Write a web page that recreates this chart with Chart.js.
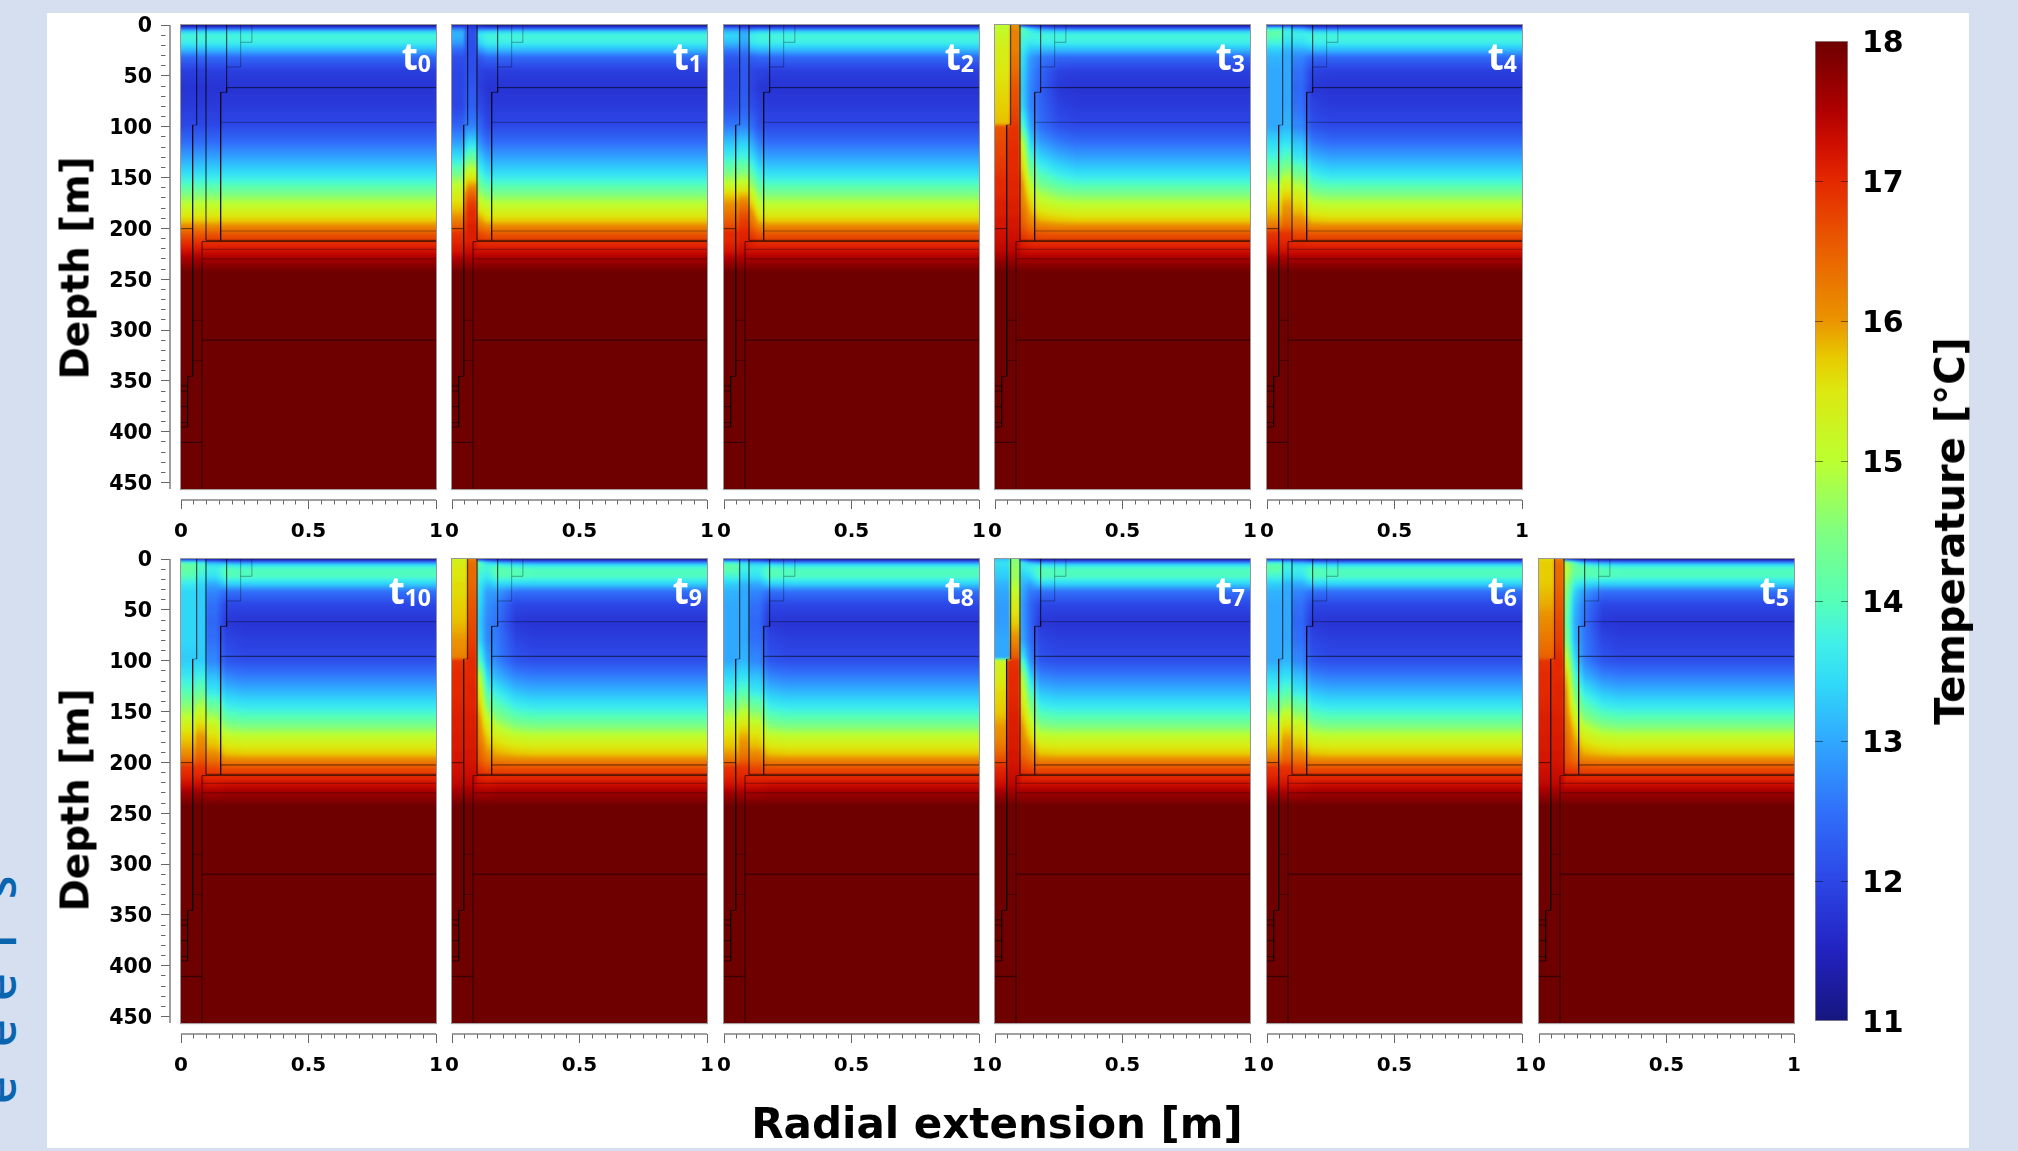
<!DOCTYPE html>
<html>
<head>
<meta charset="utf-8">
<title>Temperature sections</title>
<script src="https://cdn.jsdelivr.net/npm/chart.js@4/dist/chart.umd.min.js"></script>
<style>
    html, body { margin: 0; padding: 0; background: #d6dfef; }
    #page { position: relative; width: 2018px; height: 1151px; overflow: hidden; }
    #sheet { position: absolute; left: 47px; top: 13px; width: 1922px; height: 1135px; background: #fff; }
    canvas { position: absolute; }
    .axis-title { position: absolute; font: bold 38px "DejaVu Sans"; color: #000; white-space: nowrap; transform: translate(-50%, -50%); }
    .axis-title.turned { transform: translate(-50%, -50%) rotate(-90deg); }
    .time-label { position: absolute; font: 700 37px "Open Sans"; line-height: 37px; color: #fff; white-space: nowrap; transform: translateX(-100%); z-index: 5; }
    .time-label sub { font-size: 23px; vertical-align: baseline; position: relative; top: 2px; }
    .edge-letter { position: absolute; font: 600 48px "Open Sans"; line-height: 48px; color: #0a64ae; transform-origin: left top; transform: rotate(-90deg); }
</style>
</head>
<body>
<div id="page"><div id="sheet"></div></div>
<script>
// depth [m] of the rows every temperature profile below is read at
const depthRows = [0, 3, 6, 10, 17, 25, 32, 45, 62, 80, 97, 100, 115, 130, 145, 155, 165, 175, 185, 192, 198, 205, 212, 222, 232, 243, 456];
// radial position [m] of the nine profile columns, first four are sharp zones
const radialNodes = [0.023, 0.053, 0.071, 0.09, 0.109, 0.1375, 0.1775, 0.25, 0.32];
const radialEdges = [0.046, 0.06, 0.082, 0.098];

const depthTicks = [0, 10, 20, 30, 40, 50, 60, 70, 80, 90, 100, 110, 120, 130, 140, 150, 160, 170, 180, 190, 200, 210, 220, 230, 240, 250, 260, 270, 280, 290, 300, 310, 320, 330, 340, 350, 360, 370, 380, 390, 400, 410, 420, 430, 440, 450];
const depthLabels = [0, 50, 100, 150, 200, 250, 300, 350, 400, 450];
const radialTicks = [0, 0.05, 0.1, 0.15, 0.2, 0.25, 0.3, 0.35, 0.4, 0.45, 0.5, 0.55, 0.6, 0.65, 0.7, 0.75, 0.8, 0.85, 0.9, 0.95, 1];
const radialLabels = [0, 0.5, 1];
const tempTicks = [11, 12, 13, 14, 15, 16, 17, 18];

const colorValues = [11, 11.5, 12, 12.5, 13, 13.4, 13.7, 14, 14.5, 15, 15.5, 15.75, 16, 16.5, 17, 17.25, 17.5, 18];
const colorList = ["#16167f", "#2222c0", "#2c46e6", "#3070fa", "#30a8ff", "#30d8f8", "#40f0e8", "#55ffb8", "#80ff80", "#bcff30", "#dce810", "#e8c800", "#ea9400", "#ea6000", "#e42800", "#d01000", "#b00000", "#6e0000"];

// temperature profiles [deg C], one value per depthRows entry
const far = [11, 12.2, 13.3, 13.8, 13.7, 13.1, 12.4, 11.9, 11.75, 11.85, 12, 12.05, 12.45, 12.95, 13.45, 13.85, 14.4, 14.95, 15.4, 15.7, 16.1, 16.55, 16.85, 17.25, 17.65, 18, 18];
const farB = [11, 12.6, 13.5, 13.95, 13.95, 13.3, 12.5, 12, 11.75, 11.9, 12.05, 12.1, 12.6, 13.1, 13.6, 14, 14.5, 15.1, 15.5, 15.75, 16.15, 16.6, 16.9, 17.3, 17.7, 18, 18];
const t1a = [11.3, 12.5, 13, 13.1, 12.9, 12.4, 12.1, 12, 12, 12, 12.3, 12.4, 12.9, 13.5, 14.3, 14.9, 15.3, 15.6, 15.9, 16.2, 16.5, 16.9, 17, 17.2, 17.6, 18, 18];
const t1b = [11.5, 12.2, 12.5, 12.5, 12.4, 12.2, 12.1, 12.1, 12.1, 12.2, 12.5, 12.6, 13.2, 14, 15, 15.5, 16, 16.4, 16.7, 16.8, 16.9, 17, 17.05, 17.3, 17.6, 18, 18];
const t1c = [11.6, 11.9, 12.1, 12.1, 12.1, 12.1, 12.1, 12.1, 12.2, 12.3, 12.6, 12.7, 13.4, 14.2, 15.2, 15.8, 16.4, 16.8, 17, 17, 17.1, 17.1, 17.1, 17.3, 17.6, 18, 18];
const t1e = [11.2, 12.3, 13.2, 13.6, 13.4, 12.8, 12.2, 11.95, 11.9, 12.05, 12.35, 12.4, 12.8, 13.3, 13.8, 14.2, 14.7, 15.2, 15.7, 16, 16.3, 16.7, 16.9, 17.25, 17.65, 18, 18];
const t2a = [11.2, 12.5, 13.1, 13.4, 13.2, 12.6, 12.2, 12, 12, 12.1, 12.5, 12.6, 13.2, 13.7, 14.4, 15, 15.6, 16, 16.3, 16.5, 16.7, 17, 17, 17.2, 17.6, 18, 18];
const t2c = [11.2, 12.2, 12.9, 13.1, 13, 12.6, 12.3, 12.2, 12.2, 12.3, 12.6, 12.7, 13.3, 13.8, 14.5, 15.1, 15.7, 16.2, 16.6, 16.8, 16.9, 17.05, 17.1, 17.3, 17.6, 18, 18];
const t2e = [11.1, 12.2, 13.2, 13.7, 13.6, 13, 12.3, 12, 11.95, 12.1, 12.45, 12.5, 13, 13.5, 14.1, 14.6, 15.2, 15.7, 16.1, 16.3, 16.5, 16.8, 17, 17.25, 17.65, 18, 18];
const t3a = [15, 15.1, 15.1, 15.2, 15.3, 15.4, 15.4, 15.5, 15.6, 15.7, 15.8, 16.6, 16.7, 16.8, 16.9, 17, 17, 17.1, 17.1, 17.2, 17.2, 17.25, 17.3, 17.4, 17.7, 18, 18];
const t3b = [15, 15.1, 15.1, 15.2, 15.3, 15.4, 15.4, 15.5, 15.6, 15.7, 15.8, 16.9, 16.95, 17, 17, 17.05, 17.05, 17.1, 17.1, 17.2, 17.2, 17.25, 17.3, 17.4, 17.7, 18, 18];
const t3c = [16, 16.1, 16.2, 16.2, 16.2, 16.2, 16.3, 16.4, 16.6, 16.7, 16.85, 16.9, 16.95, 17, 17, 17.05, 17.05, 17.1, 17.1, 17.2, 17.2, 17.25, 17.3, 17.4, 17.7, 18, 18];
const t3e = [11.5, 14, 14, 13.9, 13.8, 13.6, 13.5, 13.4, 13.3, 13.4, 13.9, 14, 15, 15.5, 15.8, 16, 16.1, 16.2, 16.4, 16.5, 16.6, 16.8, 17, 17.3, 17.65, 18, 18];
const t3f = [11.2, 13.3, 13.7, 13.8, 13.6, 13.2, 12.9, 12.8, 12.7, 12.7, 12.95, 13, 13.4, 13.9, 14.5, 15, 15.4, 15.7, 15.9, 16.1, 16.3, 16.6, 16.9, 17.25, 17.65, 18, 18];
const t3g = [11.1, 12.6, 13.4, 13.8, 13.7, 13.1, 12.6, 12.4, 12.3, 12.4, 12.45, 12.5, 12.9, 13.4, 13.9, 14.3, 14.8, 15.2, 15.6, 15.85, 16.2, 16.6, 16.85, 17.25, 17.65, 18, 18];
const t3h = [11, 12.3, 13.3, 13.8, 13.7, 13.1, 12.4, 11.95, 11.8, 11.95, 12.1, 12.15, 12.6, 13.1, 13.6, 14, 14.5, 15, 15.45, 15.75, 16.1, 16.55, 16.85, 17.25, 17.65, 18, 18];
const t4a = [11.5, 13.6, 14.1, 14.1, 13.8, 13.3, 13.1, 13, 13, 13, 13, 13, 13.4, 13.8, 14.4, 14.9, 15.3, 15.6, 15.8, 16, 16.3, 16.9, 17, 17.25, 17.65, 18, 18];
const t4c = [11.4, 13.3, 13.7, 13.7, 13.5, 13.1, 13, 13, 13, 13, 13.1, 13.1, 13.5, 14, 14.7, 15.2, 15.6, 15.9, 16.1, 16.3, 16.5, 16.9, 17, 17.25, 17.65, 18, 18];
const t4e = [11.2, 12.9, 13.5, 13.7, 13.5, 13, 12.7, 12.5, 12.4, 12.5, 12.7, 12.7, 13.2, 13.6, 14.3, 14.8, 15.3, 15.6, 15.85, 16.1, 16.35, 16.7, 16.9, 17.25, 17.65, 18, 18];
const t5a = [15.6, 15.7, 15.7, 15.7, 15.7, 15.75, 15.8, 15.9, 16.1, 16.3, 16.5, 16.9, 17, 17, 17.05, 17.1, 17.1, 17.15, 17.15, 17.2, 17.2, 17.25, 17.3, 17.4, 17.7, 18, 18];
const t5c = [16.2, 16.35, 16.4, 16.4, 16.4, 16.45, 16.5, 16.6, 16.7, 16.8, 16.95, 17, 17, 17.05, 17.05, 17.1, 17.1, 17.15, 17.15, 17.2, 17.2, 17.25, 17.3, 17.4, 17.7, 18, 18];
const t5e = [11.6, 14.8, 14.9, 15, 14.9, 14.7, 14.6, 14.4, 14.3, 14.5, 15.1, 15.3, 15.8, 16, 16.1, 16.2, 16.3, 16.4, 16.5, 16.55, 16.6, 16.8, 17, 17.3, 17.7, 18, 18];
const t5f = [11.3, 13.9, 14.2, 14.3, 14.1, 13.7, 13.4, 13.2, 13.1, 13.2, 13.5, 13.6, 14, 14.5, 15, 15.4, 15.7, 15.9, 16.1, 16.3, 16.4, 16.7, 16.95, 17.3, 17.7, 18, 18];
const t5g = [11.1, 13, 13.8, 14.1, 14, 13.4, 12.9, 12.6, 12.5, 12.6, 12.65, 12.7, 13.1, 13.6, 14.1, 14.5, 15, 15.4, 15.7, 15.9, 16.2, 16.65, 16.9, 17.3, 17.7, 18, 18];
const t5h = [11, 12.7, 13.6, 14, 14, 13.3, 12.5, 12, 11.8, 12, 12.15, 12.2, 12.7, 13.2, 13.7, 14.1, 14.6, 15.15, 15.55, 15.8, 16.15, 16.6, 16.9, 17.3, 17.7, 18, 18];
const t7a = [13.2, 13.5, 13.5, 13.4, 13.3, 13.1, 13, 12.9, 12.9, 13, 13, 15.2, 15.4, 15.6, 15.7, 15.8, 16, 16.1, 16.3, 16.5, 16.7, 17, 17.1, 17.3, 17.7, 18, 18];
const t7b = [13.2, 13.5, 13.5, 13.4, 13.3, 13.1, 13, 12.9, 12.9, 13, 13, 16.9, 17, 17, 17.05, 17.1, 17.1, 17.15, 17.15, 17.2, 17.2, 17.25, 17.3, 17.4, 17.7, 18, 18];
const t7c = [14.5, 14.6, 14.6, 14.7, 14.7, 14.9, 15.1, 15.4, 15.7, 16.1, 16.6, 16.9, 17, 17, 17.05, 17.1, 17.1, 17.15, 17.15, 17.2, 17.2, 17.25, 17.3, 17.4, 17.7, 18, 18];
const t7e = [11.8, 13.6, 13.6, 13.5, 13.3, 13.1, 13, 12.9, 12.9, 13, 13.6, 13.9, 14.8, 15.3, 15.6, 15.8, 16, 16.1, 16.3, 16.4, 16.6, 16.8, 17, 17.3, 17.7, 18, 18];
const t7f = [11.2, 13, 13.6, 13.7, 13.4, 12.9, 12.6, 12.4, 12.4, 12.5, 12.75, 12.8, 13.4, 14, 14.6, 15, 15.4, 15.7, 16, 16.2, 16.4, 16.7, 16.95, 17.3, 17.7, 18, 18];
const t9a = [15.3, 15.4, 15.4, 15.5, 15.5, 15.6, 15.6, 15.7, 15.8, 16, 16.2, 16.9, 17, 17, 17.05, 17.1, 17.1, 17.15, 17.15, 17.2, 17.2, 17.25, 17.3, 17.4, 17.7, 18, 18];
const t10a = [11.6, 13.8, 14.2, 14.2, 14, 13.6, 13.4, 13.4, 13.4, 13.4, 13.3, 13.3, 13.6, 14, 14.6, 15, 15.4, 15.7, 15.9, 16.1, 16.4, 16.9, 17, 17.3, 17.7, 18, 18];
const t10c = [11.5, 13.5, 13.9, 13.9, 13.7, 13.4, 13.3, 13.3, 13.3, 13.3, 13.3, 13.3, 13.7, 14.2, 14.9, 15.3, 15.7, 16, 16.2, 16.4, 16.6, 16.9, 17, 17.3, 17.7, 18, 18];

// which profile sits in which radial column, per time step
const panelColumns = {
    0: [far, far, far, far, far, far, far, far, far],
    1: [t1a, t1b, t1c, t1c, t1e, far, far, far, far],
    2: [t2a, t2a, t2c, t2c, t2e, t3h, far, far, far],
    3: [t3a, t3b, t3c, t3c, t3e, t3f, t3g, t3h, far],
    4: [t4a, t4a, t4c, t4c, t4e, t4e, t3h, far, far],
    5: [t5a, t5a, t5c, t5c, t5e, t5f, t5g, t5h, farB],
    6: [t4a, t4a, t4c, t4c, t4e, t4e, t5h, farB, farB],
    7: [t7a, t7b, t7c, t7c, t7e, t7f, t5h, farB, farB],
    8: [t4a, t4a, t4c, t4c, t4e, t4e, t5h, farB, farB],
    9: [t9a, t9a, t5c, t5c, t3e, t3f, t5g, t5h, farB],
    10: [t10a, t10a, t10c, t10c, t4e, t4e, t5h, farB, farB]
};
const topRow = [0, 1, 2, 3, 4];
const bottomRow = [10, 9, 8, 7, 6, 5];

// model zone outlines, as [radius, depth] corners
const zoneLines = [
    [[0.0458, 98.4], [0.0458, 345.6], [0.026, 345.6], [0.026, 395.4], [0, 395.4]],
    [[0, 355], [0.026, 355]],
    [[0, 360], [0.026, 360]],
    [[0, 375.4], [0.026, 375.4]],
    [[0, 391], [0.026, 391]],
    [[0, 200.3], [0.0458, 200.3]],
    [[0.098, 211.8], [1, 211.8]],
    [[0.0824, 456], [0.0824, 213], [1, 213]],
    [[0.179, 61.6], [0.179, 66.2], [0.1556, 66.2], [0.1556, 211.8]],
    [[0.0824, 310], [1, 310]],
    [[0, 410.5], [0.0824, 410.5]]
];
const faintLines = [
    [[0.0614, 0], [0.0614, 98.4], [0.0458, 98.4]],
    [[0.098, 0], [0.098, 211.8]],
    [[0.179, 0], [0.179, 61.6]],
    [[0.179, 41.3], [0.234, 41.3], [0.234, 0]],
    [[0.234, 17], [0.278, 17], [0.278, 0]],
    [[0.0458, 290.5], [0.0824, 290.5]],
    [[0.0458, 330], [0.0824, 330]],
    [[0.0824, 220.6], [1, 220.6]],
    [[0.0824, 230], [1, 230]]
];
// these three change strength between the two rows
const line62 = [[0.179, 61.6], [1, 61.6]];
const line96 = [[0.1556, 95.7], [1, 95.7]];
const line203 = [[0.1556, 202.6], [1, 202.6]];

const columnLefts = [181, 452, 724, 995, 1267, 1539];
const rowTops = [25, 559];
const plotWidth = 255;
const areaHeight = 475;
const gap = 11;
const bottomDepth = 456.5;
const pxPerMetre = 1.0167;
const fontFamily = "DejaVu Sans";
const strongLine = "rgba(0,0,0,0.62)";
const weakLine = "rgba(0,0,0,0.33)";

const page = document.getElementById("page");

function hexToRgb(hex) {
    return [1, 3, 5].map(function (i) { return parseInt(hex.substr(i, 2), 16); });
}

// lookup table, one entry per 0.01 degree
const colorTable = [];
for (let i = 0; i <= 700; i++) {
    const v = 11 + i / 100;
    let k = 0;
    while (k < colorValues.length - 2 && v > colorValues[k + 1]) k++;
    const t = (v - colorValues[k]) / (colorValues[k + 1] - colorValues[k]);
    const a = hexToRgb(colorList[k]);
    const b = hexToRgb(colorList[k + 1]);
    colorTable.push([a[0] + (b[0] - a[0]) * t, a[1] + (b[1] - a[1]) * t, a[2] + (b[2] - a[2]) * t]);
}

function columnAt(x) {
    for (let i = 0; i < radialEdges.length; i++) {
        if (x < radialEdges[i]) return { a: i, b: i, t: 0 };
    }
    let k = radialEdges.length;
    if (x <= radialNodes[k]) return { a: k, b: k, t: 0 };
    while (k < radialNodes.length - 1 && x > radialNodes[k + 1]) k++;
    if (k === radialNodes.length - 1) return { a: k, b: k, t: 0 };
    return { a: k, b: k + 1, t: (x - radialNodes[k]) / (radialNodes[k + 1] - radialNodes[k]) };
}

function rowAt(d) {
    let k = 0;
    if (d <= 0) return { a: 0, b: 0, t: 0 };
    while (k < depthRows.length - 2 && d > depthRows[k + 1]) k++;
    return { a: k, b: k + 1, t: Math.min(1, (d - depthRows[k]) / (depthRows[k + 1] - depthRows[k])) };
}

const heatCells = {
    id: "heatCells",
    beforeDatasetsDraw(chart) {
        const xs = chart.scales.x;
        const ys = chart.scales.y;
        const cells = chart.data.datasets[0].data;
        const rows = depthRows.length;
        const x0 = xs.getPixelForValue(0);
        const x1 = xs.getPixelForValue(1);
        const y0 = ys.getPixelForValue(0);
        const y1 = ys.getPixelForValue(bottomDepth);
        const m = 6;
        const w = Math.ceil(x1 - x0) + 2 * m;
        const h = Math.ceil(y1 - y0) + 2 * m;
        const off = document.createElement("canvas");
        off.width = w;
        off.height = h;
        const octx = off.getContext("2d");
        const img = octx.createImageData(w, h);

        const colsAt = [];
        for (let px = 0; px < w; px++) {
            colsAt.push(columnAt(Math.max(0, xs.getValueForPixel(x0 - m + px + 0.5))));
        }
        let p = 0;
        for (let py = 0; py < h; py++) {
            const r = rowAt(ys.getValueForPixel(y0 - m + py + 0.5));
            for (let px = 0; px < w; px++) {
                const c = colsAt[px];
                const top = cells[c.a * rows + r.a].v * (1 - c.t) + cells[c.b * rows + r.a].v * c.t;
                const bot = cells[c.a * rows + r.b].v * (1 - c.t) + cells[c.b * rows + r.b].v * c.t;
                const v = top * (1 - r.t) + bot * r.t;
                const rgb = colorTable[Math.max(0, Math.min(700, Math.round((v - 11) * 100)))];
                img.data[p++] = rgb[0];
                img.data[p++] = rgb[1];
                img.data[p++] = rgb[2];
                img.data[p++] = 255;
            }
        }
        octx.putImageData(img, 0, 0);

        const ctx = chart.ctx;
        ctx.save();
        ctx.beginPath();
        ctx.rect(x0, y0, x1 - x0, y1 - y0);
        ctx.clip();
        ctx.filter = "blur(1.2px)";
        ctx.drawImage(off, x0 - m, y0 - m);
        ctx.restore();
    },
    afterDatasetsDraw(chart) {
        const xs = chart.scales.x;
        const ys = chart.scales.y;
        const ctx = chart.ctx;
        const x0 = xs.getPixelForValue(0);
        const x1 = xs.getPixelForValue(1);
        const y0 = ys.getPixelForValue(0);
        const y1 = ys.getPixelForValue(bottomDepth);
        ctx.save();
        ctx.strokeStyle = "rgba(140,140,140,0.9)";
        ctx.lineWidth = 1;
        ctx.strokeRect(x0 - 0.5, y0 - 0.5, x1 - x0 + 1, y1 - y0 + 1);
        // axis lines only run over the data range
        ctx.strokeStyle = "#808080";
        ctx.lineWidth = 1.5;
        ctx.beginPath();
        ctx.moveTo(x0, chart.chartArea.bottom);
        ctx.lineTo(x1, chart.chartArea.bottom);
        if (ys.options.display) {
            ctx.moveTo(chart.chartArea.left, y0);
            ctx.lineTo(chart.chartArea.left, y1);
        }
        ctx.stroke();
        ctx.restore();
    }
};

function makeCanvas(left, top, width, height) {
    const canvas = document.createElement("canvas");
    canvas.width = width;
    canvas.height = height;
    canvas.style.left = left + "px";
    canvas.style.top = top + "px";
    page.appendChild(canvas);
    return canvas;
}

function lineDataset(corners, color) {
    return {
        type: "scatter",
        showLine: true,
        data: corners.map(function (c) { return { x: c[0], y: c[1] }; }),
        borderColor: color,
        borderWidth: 1,
        pointRadius: 0,
        tension: 0
    };
}

function drawPanel(step, col, row) {
    const plotLeft = columnLefts[col];
    const rowTop = rowTops[row];
    const canvas = makeCanvas(plotLeft - 110, rowTop - 15, 385, 15 + areaHeight + 70);

    const cells = [];
    panelColumns[step].forEach(function (profile, c) {
        profile.forEach(function (v, r) {
            cells.push({ x: radialNodes[c], y: depthRows[r], v: v });
        });
    });

    const datasets = [{ label: "t" + step, data: cells, pointRadius: 0, showLine: false }];
    zoneLines.forEach(function (z) { datasets.push(lineDataset(z, strongLine)); });
    faintLines.forEach(function (z) { datasets.push(lineDataset(z, weakLine)); });
    datasets.push(lineDataset(line62, row === 0 ? strongLine : weakLine));
    datasets.push(lineDataset(line96, row === 0 ? weakLine : strongLine));
    datasets.push(lineDataset(line203, row === 0 ? weakLine : strongLine));

    new Chart(canvas.getContext("2d"), {
        type: "scatter",
        data: { datasets: datasets },
        options: {
            responsive: false,
            animation: false,
            events: [],
            layout: { padding: { left: col === 0 ? 0 : 99, right: 20, top: 15, bottom: 0 } },
            plugins: { legend: { display: false }, tooltip: { enabled: false } },
            scales: {
                x: {
                    type: "linear",
                    min: -gap / plotWidth,
                    max: 1,
                    border: { display: false },
                    grid: {
                        drawOnChartArea: false,
                        tickLength: 9,
                        tickColor: "#666",
                        tickBorderDash: function (c) { return radialLabels.includes(c.tick.value) ? [] : [4.5, 40]; }
                    },
                    ticks: {
                        autoSkip: false,
                        maxRotation: 0,
                        minRotation: 0,
                        padding: 11,
                        color: "#000",
                        font: { family: fontFamily, weight: "bold", size: 20 },
                        callback: function (v) { return radialLabels.includes(v) ? String(v) : ""; }
                    },
                    afterBuildTicks: function (s) { s.ticks = radialTicks.map(function (v) { return { value: v }; }); },
                    afterFit: function (s) { s.height = 70; s.paddingLeft = 0; s.paddingRight = 0; }
                },
                y: {
                    type: "linear",
                    display: col === 0,
                    reverse: true,
                    min: 0,
                    max: areaHeight / pxPerMetre,
                    border: { display: false },
                    grid: {
                        drawOnChartArea: false,
                        tickLength: 9,
                        tickColor: "#666",
                        tickBorderDash: function (c) { return depthLabels.includes(c.tick.value) ? [] : [4.5, 40]; }
                    },
                    ticks: {
                        autoSkip: false,
                        padding: 9,
                        labelOffset: 2,
                        color: "#000",
                        font: { family: fontFamily, weight: "bold", size: 20.5 },
                        callback: function (v) { return depthLabels.includes(v) ? String(v) : ""; }
                    },
                    afterBuildTicks: function (s) { s.ticks = depthTicks.map(function (v) { return { value: v }; }); },
                    afterFit: function (s) { s.width = col === 0 ? 99 : 0; s.paddingTop = 0; s.paddingBottom = 0; }
                }
            }
        },
        plugins: [heatCells]
    });

    const label = document.createElement("div");
    label.className = "time-label";
    label.style.left = (plotLeft + plotWidth - 5) + "px";
    label.style.top = (rowTop + 12) + "px";
    label.innerHTML = "t<sub>" + step + "</sub>";
    page.appendChild(label);
}

topRow.forEach(function (step, col) { drawPanel(step, col, 0); });
bottomRow.forEach(function (step, col) { drawPanel(step, col, 1); });

// temperature colour bar
const barTicks = {
    id: "barTicks",
    afterDatasetsDraw(chart) {
        const ctx = chart.ctx;
        const area = chart.chartArea;
        ctx.save();
        ctx.strokeStyle = "rgba(0,0,0,0.45)";
        ctx.lineWidth = 1;
        ctx.beginPath();
        chart.scales.y.ticks.forEach(function (t) {
            if (t.value === 11 || t.value === 18) return;
            const y = Math.round(chart.scales.y.getPixelForValue(t.value)) + 0.5;
            ctx.moveTo(area.left, y);
            ctx.lineTo(area.left + 8, y);
            ctx.moveTo(area.right - 7, y);
            ctx.lineTo(area.right, y);
        });
        ctx.stroke();
        ctx.restore();
    }
};

new Chart(makeCanvas(1800, 20, 150, 1020).getContext("2d"), {
    type: "bar",
    data: {
        labels: ["Temperature"],
        datasets: [{
            data: [[tempTicks[0], tempTicks[tempTicks.length - 1]]],
            barPercentage: 1,
            categoryPercentage: 1,
            borderColor: "#999",
            borderWidth: 1,
            borderSkipped: false,
            backgroundColor: function (c) {
                const chart = c.chart;
                if (!chart.chartArea) return "transparent";
                const y = chart.scales.y;
                const g = chart.ctx.createLinearGradient(0, y.getPixelForValue(11), 0, y.getPixelForValue(18));
                colorValues.forEach(function (v, i) { g.addColorStop((v - 11) / 7, colorList[i]); });
                return g;
            }
        }]
    },
    options: {
        responsive: false,
        animation: false,
        events: [],
        layout: { padding: { left: 15, top: 21, bottom: 19, right: 0 } },
        plugins: { legend: { display: false }, tooltip: { enabled: false } },
        scales: {
            x: { display: false },
            y: {
                position: "right",
                min: 11,
                max: 18,
                border: { display: false },
                grid: { display: false, drawTicks: false },
                ticks: {
                    stepSize: 1,
                    padding: 14,
                    labelOffset: 3,
                    color: "#000",
                    font: { family: fontFamily, weight: "bold", size: 30 }
                },
                afterFit: function (s) { s.width = 102; s.paddingTop = 0; s.paddingBottom = 0; }
            }
        }
    },
    plugins: [barTicks]
});

// axis titles shared between panels
function addTitle(text, x, y, size, turned) {
    const el = document.createElement("div");
    el.className = "axis-title" + (turned ? " turned" : "");
    el.style.left = x + "px";
    el.style.top = y + "px";
    el.style.fontSize = size + "px";
    el.textContent = text;
    page.appendChild(el);
}
addTitle("Depth [m]", 75, 268, 39, true);
addTitle("Depth [m]", 75, 800, 39, true);
addTitle("Radial extension [m]", 997, 1123, 42, false);
addTitle("Temperature [°C]", 1950, 531, 40, true);

// letters of the neighbouring page, cut off by the left edge
const edgeLetters = ["s", "l", "e", "e", "e"];
const edgeCentres = [885, 934, 987, 1033, 1090];
edgeLetters.forEach(function (letter, i) {
    const el = document.createElement("div");
    el.className = "edge-letter";
    el.style.left = "-26px";
    el.style.top = (edgeCentres[i] + 14) + "px";
    el.textContent = letter;
    page.appendChild(el);
});
</script>
</body>
</html>
